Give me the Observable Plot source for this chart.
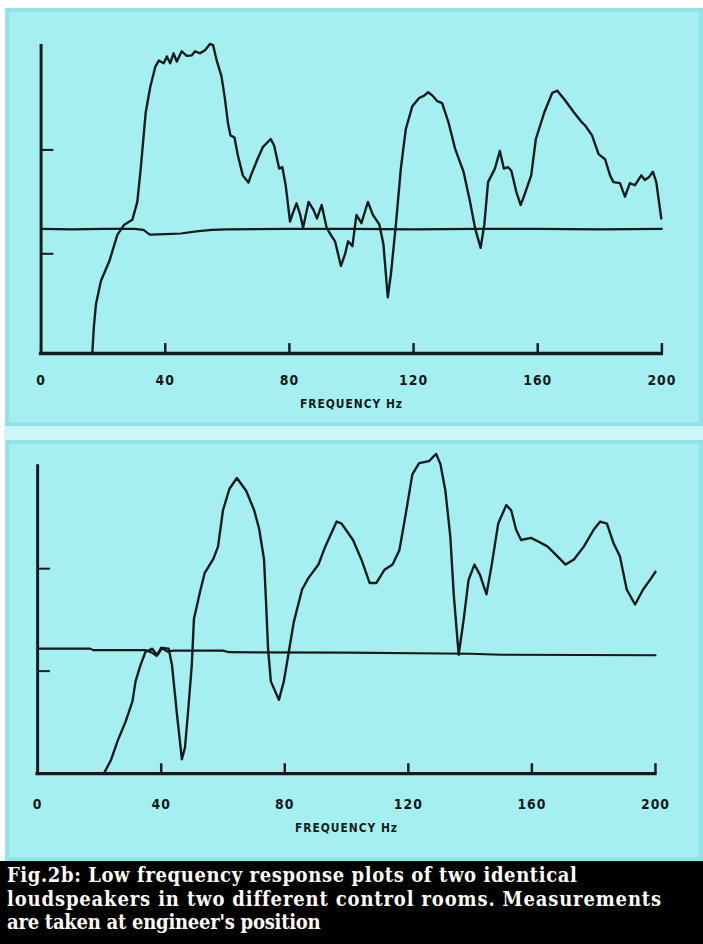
<!DOCTYPE html>
<html><head><meta charset="utf-8">
<script src="https://cdn.jsdelivr.net/npm/d3@7"></script>
<script src="https://cdn.jsdelivr.net/npm/@observablehq/plot@0.6"></script>
<style>
html,body{margin:0;padding:0;background:#fff;}
#page{position:relative;width:703px;height:944px;overflow:hidden;background:#fff;}
.panel{position:absolute;background:#a6eff1;box-sizing:border-box;border:4px solid #8fe4ea;}
.panel svg{position:absolute;left:-4px;top:-4px;overflow:visible;}
#gap{position:absolute;left:4px;top:426px;width:699px;height:14px;background:#cdf6f6;}
#caption{position:absolute;left:0;top:861px;width:703px;height:83px;background:#000;color:#fbfbf4;
  font-family:"DejaVu Serif Condensed","DejaVu Serif",serif;font-stretch:condensed;font-weight:bold;font-size:20px;line-height:23.5px;padding:3px 0 0 7px;box-sizing:border-box;white-space:nowrap;}
svg text{letter-spacing:1px;}
</style>
</head><body>
<div id="page">
  <div class="panel" id="p1" style="left:5px;top:8px;width:698px;height:418px;"></div>
  <div id="gap"></div>
  <div class="panel" id="p2" style="left:5px;top:440px;width:698px;height:421px;"></div>
  <div id="caption"><div style="letter-spacing:0.6px">Fig.2b: Low frequency response plots of two identical</div><div style="letter-spacing:0.85px">loudspeakers in two different control rooms. Measurements</div><div style="letter-spacing:-0.25px">are taken at engineer's position</div></div>
</div>
<script>
// ---- data ----
const xTickValues = [40, 80, 120, 160, 200];
const xLabelValues = [0, 40, 80, 120, 160, 200];
const yTickValues = [0, 10];
const axisTitle = "FREQUENCY Hz";

// Room 1 (top) response, Hz / dB
const topHz = [16.5,17.0,17.7,19.3,22.0,24.6,26.8,29.4,31.0,32.1,33.7,35.2,36.8,37.9,39.5,40.5,41.6,42.7,43.7,45.3,46.9,48.5,49.6,51.2,52.8,54.4,55.4,56.5,58.1,59.1,60.2,61.0,62.3,63.4,65.0,66.8,67.6,69.7,71.5,74.0,75.1,76.7,77.7,78.8,80.2,80.9,82.3,83.5,84.4,86.2,87.8,88.9,90.4,92.0,93.6,94.7,96.6,97.9,98.9,100.3,101.6,103.2,105.3,106.9,109.0,110.3,111.7,112.7,114.3,115.9,117.5,119.6,121.8,123.3,124.7,126.2,127.6,129.2,131.3,133.4,136.1,138.2,139.8,141.6,142.8,144.0,146.2,147.8,149.1,150.4,151.5,153.1,154.5,155.7,157.9,159.4,162.1,164.7,166.3,168.5,171.7,173.8,175.4,177.5,179.6,181.7,183.3,184.4,186.5,188.1,189.7,191.3,193.4,194.5,195.9,197.1,198.2,199.8];
const topDb = [-9.6,-7.05,-4.8,-2.6,-0.7,1.84,2.8,3.27,5.0,8.2,13.6,16.1,18.0,18.6,18.35,19.0,18.35,19.3,18.5,19.5,19.05,19.1,19.5,19.3,19.6,20.2,20.1,18.7,17.1,15.2,12.6,11.4,11.2,9.46,7.55,6.86,7.55,9.1,10.3,11.05,10.4,8.2,8.35,6.6,3.1,3.74,4.86,3.74,2.5,5.0,4.2,3.4,4.7,2.5,1.7,1.2,-1.17,-0.06,1.2,0.73,3.74,2.95,5.0,3.74,2.8,0.89,-4.2,-1.97,2.8,8.2,12.0,14.2,15.0,15.2,15.55,15.2,14.7,14.5,12.6,10.1,7.9,5.0,2.5,0.57,2.8,6.9,8.2,9.9,8.2,8.35,8.0,5.97,4.7,5.65,7.55,11.05,13.6,15.5,15.7,14.9,13.6,12.8,12.3,11.4,9.6,9.1,7.55,6.9,6.8,5.5,6.8,6.6,7.55,7.1,7.4,7.9,6.9,3.4];
const topRefHz = [0,10,20,30,33,35,40,45,50,55,60,80,100,120,140,160,180,200];
const topRefDb = [2.4,2.35,2.4,2.4,2.3,1.85,1.9,1.95,2.15,2.3,2.35,2.4,2.4,2.35,2.4,2.4,2.35,2.4];

// Room 2 (bottom) response, Hz / dB
const botHz = [21.6,23.7,25.9,28.5,30.7,31.7,33.3,34.9,37.1,38.7,40.3,42.4,43.5,45.1,46.7,47.7,48.8,49.9,50.6,52.5,54.1,56.8,58.4,60.0,62.1,64.5,67.5,70.1,71.7,73.3,73.9,74.6,75.5,78.1,79.7,81.3,82.9,85.6,87.7,90.9,93.1,96.8,98.4,102.1,104.8,107.5,109.6,112.3,114.9,117.1,119.2,121.3,123.5,126.7,129.0,130.4,132.0,133.6,134.7,136.3,137.9,139.5,141.4,143.2,145.3,146.9,149.1,151.7,153.3,154.9,156.5,159.7,162.4,165.1,168.3,170.9,173.6,176.8,180.0,182.1,184.3,186.4,188.5,190.7,193.4,196.0,198.7,200];
const botDb = [-9.9,-8.7,-6.8,-4.9,-2.95,-1.0,0.58,1.87,2.2,1.55,2.26,2.2,0.58,-4.2,-8.6,-7.45,-3.6,0.58,5.08,7.65,9.6,10.9,12.15,15.7,17.8,18.85,17.6,15.7,13.9,10.9,7.0,2.2,-1.0,-2.8,-1.0,1.87,4.76,7.97,9.1,10.4,12.15,14.6,14.4,12.8,10.9,8.6,8.6,9.9,10.4,11.8,15.4,19.2,20.3,20.5,21.2,20.2,17.6,13.1,7.5,1.6,5.0,8.9,10.4,9.4,7.5,10.2,14.4,16.2,15.7,13.8,12.8,13.0,12.6,12.15,11.2,10.4,10.9,12.15,13.8,14.6,14.4,12.5,11.2,7.97,6.5,7.97,9.1,9.7];
const botRefHz = [0,17,18,35,37,38.5,40,42,44,60,62,100,140,150,200];
const botRefDb = [2.2,2.2,2.05,2.05,1.8,1.5,2.3,1.9,2.0,2.0,1.85,1.8,1.7,1.6,1.55];

const zip = (xs, ys) => xs.map((x, i) => ({hz: x, db: ys[i]}));
const INK = "#141b1b";
const AXFONT = "'DejaVu Sans Condensed','Liberation Sans Narrow','DejaVu Sans',sans-serif";

function panel({curve, ref, yDomain, width, height, mL, mR, mT, mB, labelPad, titleDy}) {
  const frameW = width - mL - mR;
  const frameH = height - mT - mB;
  return Plot.plot({
    width, height, marginLeft: mL, marginRight: mR, marginTop: mT, marginBottom: mB,
    style: {background: "transparent", overflow: "visible"},
    x: {domain: [0, 200]},
    y: {domain: yDomain, axis: null},
    marks: [
      Plot.line(ref, {x: "hz", y: "db", stroke: INK, strokeWidth: 2.2}),
      Plot.line(curve, {x: "hz", y: "db", stroke: INK, strokeWidth: 2.4, strokeLinejoin: "round"}),
      Plot.ruleX([0], {stroke: INK, strokeWidth: 3, strokeLinecap: "square"}),
      Plot.ruleY([yDomain[0]], {stroke: INK, strokeWidth: 3.4, strokeLinecap: "square"}),
      Plot.tickX(xTickValues, {x: d => d, insetTop: frameH - 10, stroke: INK, strokeWidth: 2.5}),
      Plot.tickY(yTickValues, {y: d => d, insetRight: frameW - 13, stroke: INK, strokeWidth: 2}),
      Plot.axisX(xLabelValues, {tickSize: 0, tickPadding: labelPad, label: null, fontSize: 14, fontWeight: "bold", fontFamily: AXFONT, fill: INK}),
      Plot.text([axisTitle], {frameAnchor: "bottom", dy: titleDy, fontSize: 12, fontWeight: "bold", fontFamily: AXFONT, fill: INK})
    ]
  });
}

const p1 = panel({curve: zip(topHz, topDb), ref: zip(topRefHz, topRefDb), yDomain: [-9.6, 20],
  width: 698, height: 418, mL: 36, mR: 34, mT: 38, mB: 69, labelPad: 22, titleDy: 55});
document.getElementById("p1").appendChild(p1);
const p2 = panel({curve: zip(botHz, botDb), ref: zip(botRefHz, botRefDb), yDomain: [-10, 20],
  width: 698, height: 421, mL: 32.5, mR: 40.5, mT: 26, mB: 84, labelPad: 26, titleDy: 59});
document.getElementById("p2").appendChild(p2);
</script>
</body></html>
